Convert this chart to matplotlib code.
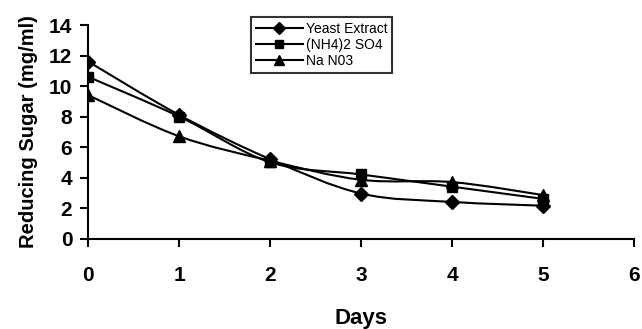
import matplotlib
matplotlib.use('Agg')
import matplotlib.pyplot as plt
from matplotlib.path import Path
from matplotlib.patches import PathPatch
from matplotlib.lines import Line2D

days = [0, 1, 2, 3, 4, 5]
yeast = [11.6, 8.1, 5.2, 2.95, 2.4, 2.15]
nh4 = [10.6, 8.0, 5.0, 4.2, 3.4, 2.6]
nano3 = [9.4, 6.7, 5.1, 3.85, 3.7, 2.85]

labels = ["Yeast Extract", "(NH4)2 SO4", "Na N03"]
markers = ["D", "s", "^"]
msizes = [7.5, 7, 8]

plt.rcParams['font.family'] = ['Liberation Sans', 'DejaVu Sans']


def smooth_path(xs, ys):
    # Excel-style smoothed line: cubic bezier through each point
    verts = [(xs[0], ys[0])]
    codes = [Path.MOVETO]
    n = len(xs)
    for i in range(n - 1):
        x0, y0 = (xs[i - 1], ys[i - 1]) if i > 0 else (xs[i], ys[i])
        x3, y3 = (xs[i + 2], ys[i + 2]) if i + 2 < n else (xs[i + 1], ys[i + 1])
        c1 = (xs[i] + (xs[i + 1] - x0) / 6, ys[i] + (ys[i + 1] - y0) / 6)
        c2 = (xs[i + 1] - (x3 - xs[i]) / 6, ys[i + 1] - (y3 - ys[i]) / 6)
        verts += [c1, c2, (xs[i + 1], ys[i + 1])]
        codes += [Path.CURVE4] * 3
    return Path(verts, codes)


fig = plt.figure(figsize=(6.42, 3.29), dpi=100)
ax = fig.add_axes([0.1375, 0.275, 0.850, 0.649])

handles = []
for ys, lab, m, ms in zip([yeast, nh4, nano3], labels, markers, msizes):
    ax.add_patch(PathPatch(smooth_path(days, ys), fill=False, edgecolor='black', lw=1.5))
    ax.plot(days, ys, linestyle='none', marker=m, color='black', markersize=ms)
    handles.append(Line2D([], [], color='black', lw=1.5, marker=m, markersize=ms - 1))

ax.set_xlim(0, 6)
ax.set_ylim(0, 14)
ax.set_xticks(range(0, 7))
ax.set_yticks(range(0, 15, 2))
for s in ['top', 'right']:
    ax.spines[s].set_visible(False)
for s in ['left', 'bottom']:
    ax.spines[s].set_linewidth(1.5)
ax.tick_params(width=1.5, length=5.5, labelsize=15)
ax.tick_params(axis='x', pad=14)
ax.tick_params(axis='y', pad=6)
for t in ax.get_xticklabels() + ax.get_yticklabels():
    t.set_fontweight('bold')

ax.set_xlabel("Days", fontsize=16, fontweight='bold', labelpad=17)
ax.set_ylabel("Reducing Sugar (mg/ml)", fontsize=14.5, fontweight='bold', labelpad=8)

leg = fig.legend(handles, labels, loc='upper left', bbox_to_anchor=(0.391, 0.949),
                 frameon=True, fancybox=False, edgecolor='black', fontsize=10,
                 handlelength=3.4, handletextpad=0.2, borderpad=0.35,
                 labelspacing=0.15, borderaxespad=0)
leg.get_frame().set_linewidth(1.5)

fig.savefig("out.png", dpi=100)
